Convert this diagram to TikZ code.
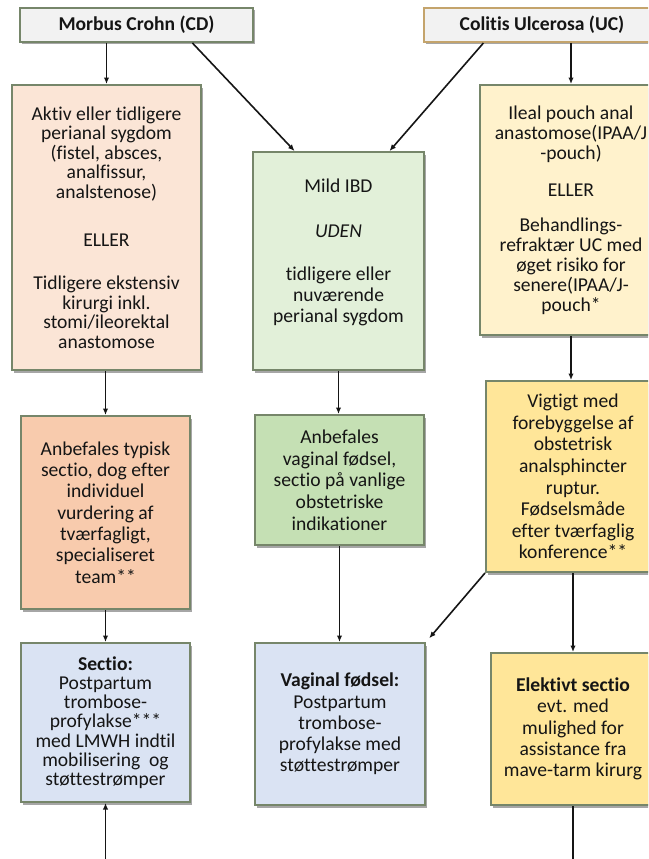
\documentclass[tikz,border=0pt]{standalone}
\usepackage{fontspec}
\setmainfont{Carlito}[Ligatures=NoCommon]
\usetikzlibrary{arrows.meta,shadows,calc}
\definecolor{bordc}{HTML}{76866A}
\definecolor{ucbord}{HTML}{C4A46C}
\definecolor{hdrfill}{HTML}{F2F2F2}
\definecolor{peachL}{HTML}{FBE5D6}
\definecolor{greenL}{HTML}{E2F0D9}
\definecolor{yellowL}{HTML}{FFF2CC}
\definecolor{peachM}{HTML}{F8CBAD}
\definecolor{greenM}{HTML}{C5E0B4}
\definecolor{yellowM}{HTML}{FFE699}
\definecolor{blueL}{HTML}{DAE3F3}
\definecolor{ink}{HTML}{151515}
\begin{document}
\begin{tikzpicture}[x=1pt,y=-1pt,
  box/.style={draw=bordc, line width=2pt, align=center, inner sep=0pt,
    drop shadow={shadow xshift=2pt, shadow yshift=-2.5pt, opacity=0.35, fill=black},
    text=ink},
  fs/.style={font=\fontsize{19.6}{#1}\selectfont},
  arr/.style={line width=1.6pt, draw=ink, -{Latex[length=6.5pt,width=5.5pt]}},
  ln/.style={line width=1.6pt, draw=ink}]
\useasboundingbox (0,0) rectangle (648,859);
\fill[white] (0,0) rectangle (648,859);
\clip (0,0) rectangle (648,859);

% headers
\node[box, fill=hdrfill, minimum width=233pt, minimum height=34pt,
      font=\bfseries\fontsize{19.6}{21}\selectfont] (cd) at (136.5,25) {Morbus Crohn (CD)};
\node[box, draw=ucbord, fill=hdrfill, minimum width=236pt, minimum height=34pt,
      font=\bfseries\fontsize{19.6}{21}\selectfont] (uc) at (542,25) {Colitis Ulcerosa (UC)};

% row 1
\node[box, fill=peachL, minimum width=189pt, minimum height=285pt, fs=19.6] (aktiv) at (106.5,227.5)
 {Aktiv eller tidligere\\perianal sygdom\\(fistel, absces,\\analfissur,\\analstenose)\\[28pt]
  ELLER\\[24pt]Tidligere ekstensiv\\kirurgi inkl.\\stomi/ileorektal\\anastomose};
\node[box, fill=greenL, minimum width=171pt, minimum height=218pt, fs=21] (mild) at (338.5,261)
 {Mild IBD\\[24pt]\textit{UDEN}\\[22pt]tidligere eller\\nuværende\\perianal sygdom\\~};
\node[box, fill=yellowL, minimum width=182pt, minimum height=250pt, fs=20] (ileal) at (571,210)
 {Ileal pouch anal\\anastomose(IPAA/J\\-pouch)\\[17pt]ELLER\\[15pt]Behandlings-\\refraktær UC med\\øget risiko for\\senere(IPAA/J-\\pouch*};

% row 2
\node[box, fill=peachM, minimum width=169pt, minimum height=193pt, fs=21.3] (anbtyp) at (105.5,512.5)
 {Anbefales typisk\\sectio, dog efter\\individuel\\vurdering af\\tværfagligt,\\specialiseret\\team**};
\node[box, fill=greenM, minimum width=169pt, minimum height=130pt, fs=21.7] (anbvag) at (339.5,480)
 {Anbefales\\vaginal fødsel,\\sectio på vanlige\\obstetriske\\indikationer};
\node[box, fill=yellowM, minimum width=174pt, minimum height=191pt, fs=21.6] (vigtigt) at (573,476.5)
 {Vigtigt med\\forebyggelse af\\obstetrisk\\analsphincter\\ruptur.\\Fødselsmåde\\efter tværfaglig\\konference**};

% row 3
\node[box, fill=blueL, minimum width=169pt, minimum height=159pt, fs=19.2] (sectio) at (105.5,722.5)
 {\textbf{Sectio:}\\Postpartum\\trombose-\\profylakse***\\med LMWH indtil\\mobilisering\ \ og\\støttestrømper};
\node[box, fill=blueL, minimum width=170pt, minimum height=162pt, fs=21.2] (vagfod) at (340,724)
 {\textbf{Vaginal fødsel:}\\Postpartum\\trombose-\\profylakse med\\støttestrømper};
\node[box, fill=yellowM, minimum width=164pt, minimum height=152pt, fs=21.3] (elektiv) at (573,729)
 {\textbf{Elektivt sectio}\\evt. med\\mulighed for\\assistance fra\\mave-tarm kirurg};

\coordinate (bl) at (105.5,880);
\coordinate (br) at (573,880);

% connectors
\draw[arr] (cd.south -| aktiv.north) -- (aktiv.north);
\draw[arr] ($(cd.south west)!0.738!(cd.south east)$) -- ($(mild.north west)!0.246!(mild.north east)$);
\draw[arr] ($(uc.south west)!0.254!(uc.south east)$) -- ($(mild.north west)!0.795!(mild.north east)$);
\draw[arr] (uc.south -| ileal.north) -- (ileal.north);
\draw[arr] (aktiv.south -| anbtyp.north) -- (anbtyp.north);
\draw[arr] (mild.south) -- (mild.south |- anbvag.north);
\draw[arr] (ileal.south) -- (ileal.south |- vigtigt.north);
\draw[arr] (anbtyp.south) -- (sectio.north);
\draw[arr] (anbvag.south) -- (anbvag.south |- vagfod.north);
\draw[arr, shorten >=5pt] (vigtigt.south west) -- (vagfod.north east);
\draw[arr] (vigtigt.south) -- (elektiv.north);
\draw[ln] (elektiv.south) -- (br);
\draw[arr] (bl) -- (sectio.south);
\end{tikzpicture}
\end{document}
